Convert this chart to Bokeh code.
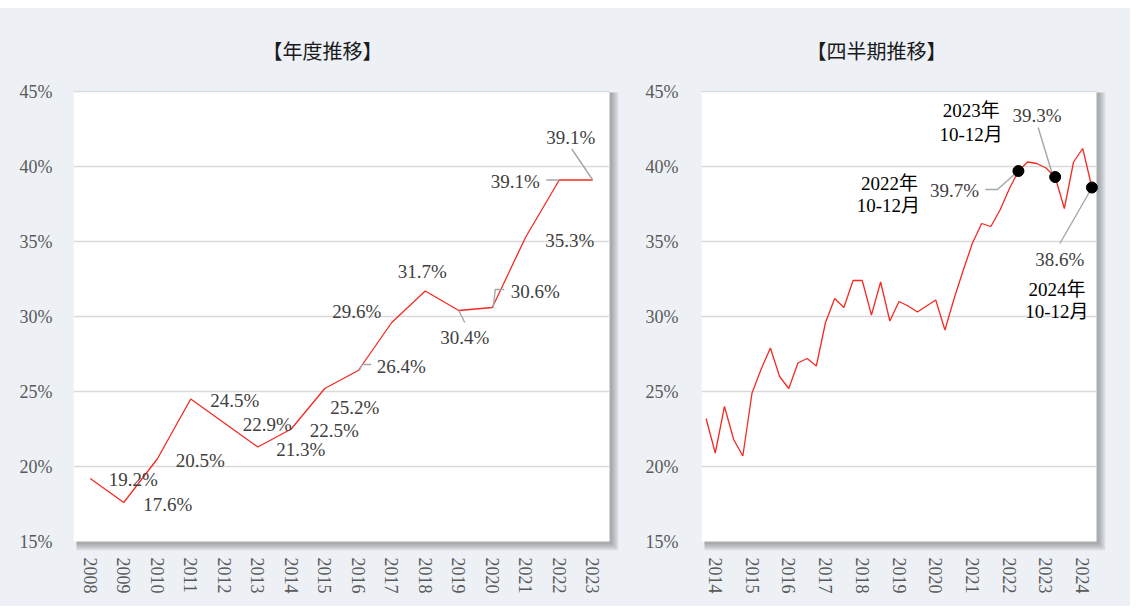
from bokeh.plotting import figure
from bokeh.models import Range1d, FixedTicker, PrintfTickFormatter, ColumnDataSource
from bokeh.layouts import row
from bokeh.core.properties import value
from bokeh.embed import file_html
from bokeh.resources import INLINE

# ---------------- data ----------------
years = ["2008", "2009", "2010", "2011", "2012", "2013", "2014", "2015",
         "2016", "2017", "2018", "2019", "2020", "2021", "2022", "2023"]
annual = [19.2, 17.6, 20.5, 24.5, 22.9, 21.3, 22.5, 25.2,
          26.4, 29.6, 31.7, 30.4, 30.6, 35.3, 39.1, 39.1]

q_years = ["2014", "2015", "2016", "2017", "2018", "2019",
           "2020", "2021", "2022", "2023", "2024"]
q_names = ["1-3", "4-6", "7-9", "10-12"]
quarters = [f"{y}年{q}月" for y in q_years for q in q_names][1:]   # 2014年4-6月 .. 2024年10-12月
quarterly = [23.2, 20.9, 24.0, 21.8, 20.7, 24.9, 26.5, 27.9,
             26.0, 25.2, 26.9, 27.2, 26.7, 29.6, 31.2, 30.6,
             32.4, 32.4, 30.1, 32.3, 29.7, 31.0, 30.7, 30.3,
             30.7, 31.1, 29.1, 31.2, 33.1, 34.9, 36.2, 36.0,
             37.1, 38.5, 39.7, 40.3, 40.2, 39.9, 39.3, 37.2,
             40.3, 41.2, 38.6]
highlight = ["2022年10-12月", "2023年10-12月", "2024年10-12月"]
y_ticks = [15, 20, 25, 30, 35, 40, 45]

# ---------------- styles ----------------
BG = "#EDF1F6"
RED = "#F52A22"
GRID = "#D9D9D9"
LEAD = "#A6A6A6"
TICK_C = "#595959"
LAB_C = "#404040"
SERIF = "Liberation Serif"
MIX = "Liberation Serif, Noto Sans CJK JP"
CJK = "Noto Sans CJK JP"
FH = 450          # height of the white plot box (px)
SH = 9            # room for the drop shadow (px) right / bottom
TOPPAD = 1        # px above the 45% line
FW1, FW2 = 536, 395
UY = 30 / FH      # % per px

# label offsets in screen px (dx right, dy down) for the annual chart
ann_dx = [43, 44, 43, 44, 43, 43, 43, 30, 43, -35, -3, 6, 43, 44, -44, -22]
ann_dy = [1, 2, 1, 1, 1, 2, 1.5, 19, -4, -11, -20, 27, -16, 3.5, 1.5, -43]
ann_leaders = {8: [(1, 0), (4, -6), (13, -6)],
               11: [(0, 0), (6, 12)],
               12: [(1, 0), (3, -18), (12, -18)],
               14: [(-13, 0), (0, 0)],
               15: [(0, 0), (-21, -31)]}

# callouts for highlighted quarters: value label, line1, line2 offsets; leader
q_val_off = [(-64, 19.5), (-18, -61.5), (-32, 72)]
q_l1_off = [(-129, 12.5), (-84, -66.5), (-35, 102)]
q_l2_off = [(-130, 34.5), (-84, -42.5), (-35, 124)]
q_leaders = [[(-33, 18.5), (-21, 18.5), (-3, 2.5)],
             [(-17, -49.5), (-3, -3.5)],
             [(-32, 56), (-1, 2)]]


def base_fig(n, fw, border_left, border_right, title, title_off):
    ux = n / fw
    x0, x1 = -0.5, n - 0.5
    p = figure(frame_width=fw + SH, frame_height=FH + SH + TOPPAD,
               x_range=Range1d(x0, x1 + SH * ux),
               y_range=Range1d(15 - SH * UY, 45 + TOPPAD * UY),
               output_backend="svg", toolbar_location=None,
               min_border_left=border_left, min_border_right=border_right,
               min_border_top=82, min_border_bottom=56)
    p.border_fill_color = BG
    p.background_fill_color = BG
    p.outline_line_color = None
    p.title.text = title
    p.title.align = "left"
    p.title.offset = title_off
    p.title.text_font = CJK
    p.title.text_font_size = "20px"
    p.title.text_font_style = "normal"
    p.title.text_color = "#1a1a1a"
    p.title.standoff = 51
    p.grid.visible = False
    p.yaxis.ticker = FixedTicker(ticks=y_ticks)
    p.yaxis.formatter = PrintfTickFormatter(format="%d%%")
    for ax in (p.xaxis[0], p.yaxis[0]):
        ax.axis_line_color = None
        ax.major_tick_line_color = None
        ax.minor_tick_line_color = None
        ax.major_label_text_font = SERIF
        ax.major_label_text_font_size = "18px"
        ax.major_label_text_color = TICK_C
    p.xaxis.major_label_orientation = "vertical"
    p.xaxis.major_label_standoff = 1
    # drop shadow, white plot box, horizontal grid (above the 15% base)
    for k in [9, 7, 5, 3]:
        p.quad(left=x0 + 3 * ux, right=x1 + k * ux, top=45 - 1 * UY, bottom=15 - k * UY,
               fill_color="#4a4a4a", fill_alpha=0.12, line_color=None)
    p.quad(left=x0, right=x1, top=45, bottom=15, fill_color="white", line_color=None)
    gy = y_ticks[1:]
    p.segment(x0=[x0] * len(gy), x1=[x1] * len(gy), y0=gy, y1=gy,
              line_color=GRID, line_width=1.5)
    return p, ux


# ---------------- left: annual ----------------
xa = list(range(len(years)))
p1, ux1 = base_fig(len(years), FW1, 73, 2, "【年度推移】", 189)
p1.xaxis.ticker = FixedTicker(ticks=xa)
p1.xaxis.major_label_overrides = {i: y for i, y in enumerate(years)}
p1.yaxis.major_label_standoff = 15

p1.line(xa, annual, line_color=RED, line_width=1.3)
lx, ly = [], []
for i, pts in ann_leaders.items():
    lx.append([xa[i] + dx * ux1 for dx, dy in pts])
    ly.append([annual[i] - dy * UY for dx, dy in pts])
p1.multi_line(lx, ly, line_color=LEAD, line_width=1.4)
src1 = ColumnDataSource(dict(x=xa, y=annual, t=[f"{v:.1f}%" for v in annual], dx=ann_dx, dy=ann_dy))
p1.text(x="x", y="y", text="t", x_offset="dx", y_offset="dy", source=src1,
        text_align="center", text_baseline="middle", text_font=value(SERIF),
        text_font_size="19px", text_color=LAB_C)

# ---------------- right: quarterly ----------------
xq = list(range(len(quarters)))
p2, ux2 = base_fig(len(quarters), FW2, 81, 25, "【四半期推移】", 105)
tick_idx = [quarters.index(f"{y}年7-9月") for y in q_years]
p2.xaxis.ticker = FixedTicker(ticks=tick_idx)
p2.xaxis.major_label_overrides = {i: y for i, y in zip(tick_idx, q_years)}
p2.yaxis.major_label_standoff = 17

p2.line(xq, quarterly, line_color=RED, line_width=1.3)
hi = [quarters.index(h) for h in highlight]
hv = [quarterly[i] for i in hi]
lx, ly = [], []
for i, v, pts in zip(hi, hv, q_leaders):
    lx.append([i + dx * ux2 for dx, dy in pts])
    ly.append([v - dy * UY for dx, dy in pts])
p2.multi_line(lx, ly, line_color=LEAD, line_width=1.4)
p2.scatter(hi, hv, size=11, color="black")

line1 = [h.split("年")[0] + "年" for h in highlight]
line2 = [h.split("年")[1] for h in highlight]
src_v = ColumnDataSource(dict(x=hi, y=hv, t=[f"{v:.1f}%" for v in hv],
                              dx=[o[0] for o in q_val_off], dy=[o[1] for o in q_val_off]))
p2.text(x="x", y="y", text="t", x_offset="dx", y_offset="dy", source=src_v,
        text_align="center", text_baseline="middle", text_font=value(SERIF),
        text_font_size="19px", text_color=LAB_C)
for lines, offs in [(line1, q_l1_off), (line2, q_l2_off)]:
    s = ColumnDataSource(dict(x=hi, y=hv, t=lines,
                              dx=[o[0] for o in offs], dy=[o[1] for o in offs]))
    p2.text(x="x", y="y", text="t", x_offset="dx", y_offset="dy", source=s,
            text_align="center", text_baseline="middle", text_font=value(MIX),
            text_font_size="19px", text_color="black")

layout = row(p1, p2)
layout.styles = {"background-color": BG, "margin-top": "8px"}
open("out.html", "w").write(file_html(layout, INLINE))
